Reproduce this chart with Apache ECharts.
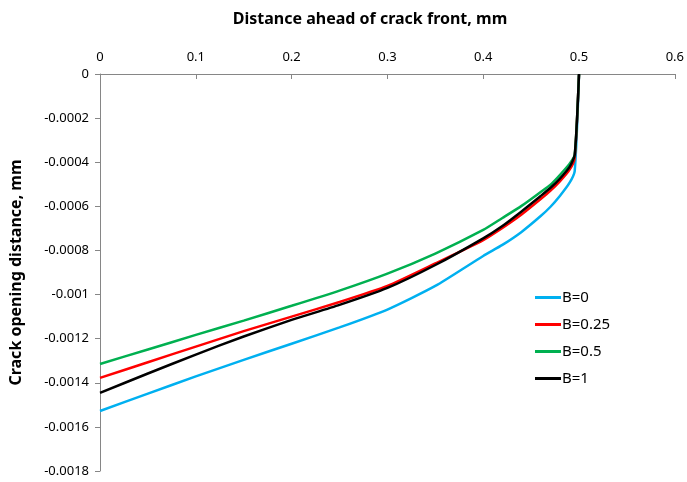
<!DOCTYPE html>
<html>
<head>
<meta charset="utf-8">
<script src="https://cdn.jsdelivr.net/npm/echarts@6/dist/echarts.min.js"></script>
<style>
  html, body { margin: 0; padding: 0; background: #fff; }
  #chart { width: 687px; height: 482px; }
</style>
</head>
<body>
<div id="chart"></div>
<script>
// distance ahead of crack front (mm)
var distance = [0, 0.05, 0.1, 0.15, 0.2, 0.25, 0.3, 0.35, 0.4, 0.42, 0.44, 0.46, 0.47, 0.48, 0.49, 0.4955, 0.5];
// crack opening distance (mm) for each B
var codB0   = [-0.001528, -0.001449, -0.001371, -0.001296, -0.001223, -0.001149, -0.001068, -0.000961, -0.000825, -0.000775, -0.000716, -0.000644, -0.000603, -0.000553, -0.000494, -0.00044, 0];
var codB025 = [-0.001378, -0.001307, -0.001236, -0.001166, -0.0011, -0.001034, -0.000961, -0.000859, -0.000753, -0.000698, -0.000637, -0.000567, -0.00053, -0.000487, -0.000435, -0.000381, 0];
var codB05  = [-0.001315, -0.001249, -0.001183, -0.001118, -0.001051, -0.000982, -0.000905, -0.000814, -0.000707, -0.000653, -0.000598, -0.000535, -0.000503, -0.000458, -0.000408, -0.000367, 0];
var codB1   = [-0.001446, -0.001358, -0.001272, -0.00119, -0.001115, -0.001047, -0.00097, -0.000866, -0.000745, -0.000689, -0.000623, -0.000553, -0.000517, -0.000474, -0.000422, -0.000367, 0];
var seriesNames = ['B=0', 'B=0.25', 'B=0.5', 'B=1'];
var seriesColors = ['#00b0f0', '#ff0000', '#00b050', '#000000'];

var font = 'Noto Sans, Liberation Sans, sans-serif';

function pairs(xs, ys) {
    var out = [];
    for (var i = 0; i < xs.length; i++) out.push([xs[i], ys[i]]);
    return out;
}

var chart = echarts.init(document.getElementById('chart'));
var allData = [codB0, codB025, codB05, codB1];

var option = {
    animation: false,
    backgroundColor: '#fff',
    textStyle: { fontFamily: font },
    grid: { left: 99, top: 74, right: 9, bottom: 11 },
    // x axis title sits a bit left of the plot centre, like the original
    graphic: [{
        type: 'text',
        x: 370,
        y: 19,
        style: {
            text: 'Distance ahead of crack front, mm',
            align: 'center',
            verticalAlign: 'middle',
            font: 'bold 16px ' + font,
            fill: '#000'
        }
    }],
    legend: {
        orient: 'vertical',
        left: 530,
        top: 285,
        icon: 'rect',
        itemWidth: 26,
        itemHeight: 3,
        itemGap: 12,
        textStyle: { fontSize: 15, color: '#000', fontFamily: font, padding: [0, 0, 0, -4] },
        data: seriesNames
    },
    xAxis: {
        type: 'value',
        position: 'top',
        min: 0,
        max: 0.6,
        interval: 0.1,
        axisLine: { show: true, onZero: false, lineStyle: { color: '#868686', width: 1 } },
        axisTick: { show: true, inside: true, length: 5, lineStyle: { color: '#868686' } },
        axisLabel: { color: '#000', fontSize: 13, margin: 10 },
        splitLine: { show: false }
    },
    yAxis: {
        type: 'value',
        min: -0.0018,
        max: 0,
        interval: 0.0002,
        name: 'Crack opening distance, mm',
        nameLocation: 'middle',
        nameGap: 76,
        nameTextStyle: { fontSize: 16, fontWeight: 'bold', color: '#000' },
        axisLine: { show: true, onZero: false, lineStyle: { color: '#868686', width: 1 } },
        axisTick: { show: true, length: 5, lineStyle: { color: '#868686' } },
        axisLabel: {
            color: '#000',
            fontSize: 13,
            margin: 11,
            formatter: function (v) { return String(parseFloat(v.toPrecision(6))); }
        },
        splitLine: { show: false }
    },
    series: seriesNames.map(function (name, i) {
        return {
            name: name,
            type: 'line',
            symbol: 'none',
            smooth: 0.2,
            color: seriesColors[i],
            lineStyle: { width: 2.5, color: seriesColors[i] },
            data: pairs(distance, allData[i])
        };
    })
};
chart.setOption(option);
</script>
</body>
</html>
